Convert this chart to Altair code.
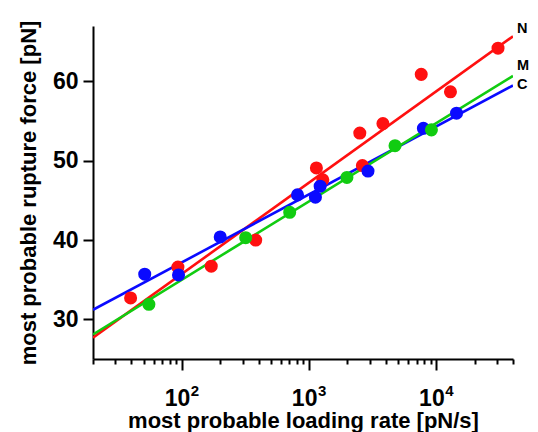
import altair as alt
import pandas as pd

# ---- data ----
red_rate = [39.5, 93, 170, 380, 1140, 1280, 2500, 2620, 3800, 7600, 12900, 30500]
red_force = [32.7, 36.6, 36.7, 40.0, 49.1, 47.6, 53.5, 49.4, 54.7, 60.9, 58.7, 64.2]
blue_rate = [51, 94, 200, 810, 1120, 1220, 2900, 7900, 14400]
blue_force = [35.7, 35.6, 40.4, 45.7, 45.4, 46.8, 48.7, 54.1, 56.0]
green_rate = [55, 317, 703, 1980, 4730, 9140]
green_force = [31.9, 40.3, 43.5, 47.9, 51.9, 53.9]

fit_rate = [20, 40000]
red_fit = [27.7, 65.7]
blue_fit = [31.2, 59.5]
green_fit = [28.1, 60.7]

series = ["N", "C", "M"]
colors = ["#ff1010", "#0a0aff", "#11cc11"]
label_force = [66.6, 59.6, 62.0]

minor_ticks = [20, 30, 40, 50, 60, 70, 80, 90,
               200, 300, 400, 500, 600, 700, 800, 900,
               2000, 3000, 4000, 5000, 6000, 7000, 8000, 9000,
               20000, 30000, 40000]
major_ticks = [100, 1000, 10000]
exponents = ["2", "3", "4"]
y_ticks = [30, 40, 50, 60]

pts = pd.concat([
    pd.DataFrame({"rate": red_rate, "force": red_force, "s": "N", "o": 0}),
    pd.DataFrame({"rate": blue_rate, "force": blue_force, "s": "C", "o": 1}),
    pd.DataFrame({"rate": green_rate, "force": green_force, "s": "M", "o": 2}),
])
fits = pd.concat([
    pd.DataFrame({"rate": fit_rate, "force": red_fit, "s": "N"}),
    pd.DataFrame({"rate": fit_rate, "force": blue_fit, "s": "C"}),
    pd.DataFrame({"rate": fit_rate, "force": green_fit, "s": "M"}),
])
labels = pd.DataFrame({"s": series, "rate": [fit_rate[1]] * 3, "force": label_force})
sups = pd.DataFrame({"rate": major_ticks, "force": [25] * 3, "e": exponents})

FONT = "Liberation Sans"
color = alt.Color("s:N", scale=alt.Scale(domain=series, range=colors), legend=None)
xscale = alt.Scale(type="log", domain=[20, 40000], nice=False)
yscale = alt.Scale(domain=[25, 67], nice=False, zero=False)

x_minor = alt.X(
    "rate:Q", scale=xscale,
    axis=alt.Axis(values=minor_ticks, tickSize=5, labels=False, grid=False,
                  title=None, orient="bottom"),
)
x_major = alt.X(
    "rate:Q", scale=xscale,
    axis=alt.Axis(values=major_ticks, tickSize=11, grid=False, orient="bottom",
                  labelExpr="'10'", labelOffset=-5, labelPadding=17,
                  labelFlush=False, domain=False,
                  title="most probable loading rate [pN/s]", titlePadding=0),
)
x_plain = alt.X("rate:Q", scale=xscale, axis=None)
yenc = alt.Y(
    "force:Q", scale=yscale,
    axis=alt.Axis(values=y_ticks, tickSize=10, labelPadding=5, grid=False,
                  title="most probable rupture force [pN]", titlePadding=12),
)

lines = alt.Chart(fits).mark_line(strokeWidth=2.6, clip=True).encode(
    x=x_minor, y=yenc, color=color, detail="s:N"
)
points = alt.Chart(pts).mark_circle(size=170, opacity=1).encode(
    x=x_major, y=yenc, color=color, order="o:Q"
)
texts = alt.Chart(labels).mark_text(
    align="left", baseline="middle", dx=4, font=FONT, fontWeight="bold", fontSize=14.5
).encode(x=x_plain, y=yenc, text="s:N", color=alt.value("black"))
sup_text = alt.Chart(sups).mark_text(
    align="center", baseline="middle", dx=13, dy=32, font=FONT,
    fontWeight="bold", fontSize=15
).encode(x=x_plain, y=yenc, text="e:N", color=alt.value("black"))

chart = (
    alt.layer(lines, points, texts, sup_text)
    .resolve_axis(x="independent")
    .properties(
        width=420,
        height=333,
        autosize=alt.AutoSizeParams(type="none"),
        padding={"left": 85, "top": 18, "right": 17, "bottom": 74},
    )
    .configure_view(stroke=None)
    .configure_axis(
        labelFont=FONT,
        titleFont=FONT,
        labelFontSize=23,
        titleFontSize=22,
        labelFontWeight="bold",
        titleFontWeight="bold",
        labelColor="black",
        titleColor="black",
        domainColor="black",
        tickColor="black",
        domainWidth=2,
        tickWidth=2,
    )
)

chart.save("out.html", embed_options={"renderer": "svg", "actions": False})
